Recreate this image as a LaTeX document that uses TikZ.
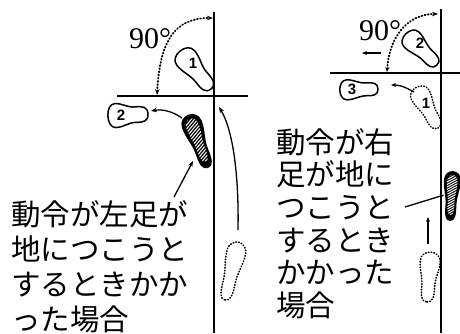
\documentclass[tikz,border=0pt]{standalone}
\usepackage{fontspec}
\setmainfont{Liberation Serif}
\newfontfamily\jpfont{Noto Sans CJK JP}
\newfontfamily\labfont{Liberation Sans}
\usetikzlibrary{arrows.meta}

% outline of a sole: heel at (0,0), toe at (1,0), width 1
\newcommand\solepath{(0,0) .. controls (0,0.3) and (0.12,0.34) .. (0.3,0.32)
  .. controls (0.5,0.3) and (0.6,0.5) .. (0.8,0.5)
  .. controls (1.04,0.5) and (1.04,-0.5) .. (0.8,-0.5)
  .. controls (0.6,-0.5) and (0.5,-0.32) .. (0.3,-0.32)
  .. controls (0.12,-0.34) and (0,-0.3) .. (0,0) -- cycle}

% black sole with white hatching
\newcommand\hatchsole[5]{%
  \begin{scope}[placesole={#1}{#2}{#3}{#4}{#5}]
    \fill[black] \solepath;
    \begin{scope}
      \clip[shift={(0.12,0)},xscale=0.8,yscale=0.62] \solepath;
      \foreach \k in {0,...,22}
        \draw[white,line width=1pt] ({\k*0.05-0.15},-0.6) -- ({\k*0.05+0.1},0.6);
    \end{scope}
  \end{scope}}

\tikzset{
  placesole/.style n args={5}{shift={(#1,#2)},rotate=#3,xscale=#4,yscale=#5},
  footline/.style={draw,line width=1.5pt,line join=round},
  footdots/.style={draw,line width=1.6pt,line cap=round,dash pattern=on 0.6pt off 2.2pt},
  axisline/.style={line width=1.6pt},
  arcdots/.style={line width=1.9pt,line cap=round,dash pattern=on 0.8pt off 2.4pt},
  tip/.style={-{Stealth[length=6pt,width=4.5pt]}},
  arr/.style={line width=1.3pt,tip},
  lab/.style={font=\labfont\bfseries\fontsize{15}{15}\selectfont,inner sep=0},
  jt/.style={font=\jpfont\fontsize{29.5}{30}\selectfont,anchor=base west,inner sep=0},
  deg/.style={font=\fontsize{30}{30}\selectfont,anchor=base west,inner sep=0},
}

\begin{document}
\begin{tikzpicture}[x=1pt,y=-1pt]
\useasboundingbox[fill=white] (0,0) rectangle (460,333);

% ---------- left figure ----------
\coordinate (vl1) at (214,12);  \coordinate (vl2) at (214,333);
\coordinate (hl1) at (117,96);  \coordinate (hl2) at (248,96);
\draw[axisline] (vl1) -- (vl2);
\draw[axisline] (hl1) -- (hl2);

\coordinate (aL1) at (157,95);  \coordinate (aL2) at (213,18);
\draw[arcdots,{Stealth[length=6pt,width=4.5pt]}-{Stealth[length=6pt,width=4.5pt]}]
  (aL1) .. controls (160,40) and (175,18) .. (aL2);
\node[deg] (degL) at (129,48) {90°};

\draw[footline,placesole={211}{89}{129.2}{50}{23}] \solepath;
\node[lab] (nL1) at (193,63) {1};
\draw[footline,placesole={148}{114}{182.8}{41}{24}] \solepath;
\node[lab] (nL2) at (121,115) {2};
\hatchsole{208}{168}{110.3}{58}{21}
\draw[footdots,placesole={225}{300}{76.7}{60.6}{19}] \solepath;

\coordinate (hlA) at (182,118); \coordinate (f2A) at (151,111);
\draw[arr] (hlA) .. controls (172,111) and (162,109) .. (f2A);
\coordinate (tA) at (174,197);  \coordinate (hlB) at (193,161);
\draw[arr] (tA) -- (hlB);
\coordinate (lA) at (238,230);  \coordinate (lB) at (219,107);
\draw[arr] (lA) .. controls (239,175) and (233,130) .. (lB);

\node[jt] (jl1) at (11,225)   {動令が左足が};
\node[jt] (jl2) at (11,260)   {地につこうと};
\node[jt] (jl3) at (11,295)   {するときかか};
\node[jt] (jl4) at (11,330)   {った場合};

% ---------- right figure ----------
\coordinate (vr1) at (441,9);   \coordinate (vr2) at (441,333);
\coordinate (hr1) at (330,73);  \coordinate (hr2) at (460,73);
\draw[axisline] (vr1) -- (vr2);
\draw[axisline] (hr1) -- (hr2);

\coordinate (aR1) at (387,72);  \coordinate (aR2) at (438,14);
\draw[arcdots,{Stealth[length=5pt,width=4pt]}-{Stealth[length=6pt,width=4.5pt]}]
  (aR1) .. controls (389,38) and (407,14) .. (aR2);
\node[deg] (degR) at (359,40) {90°};
\coordinate (sa1) at (381,53);  \coordinate (sa2) at (362,53);
\draw[line width=1.3pt,-{Stealth[length=5pt,width=4pt]}] (sa1) -- (sa2);

\draw[footline,placesole={437}{65}{135}{45}{21}] \solepath;
\node[lab] (nR2) at (420,43) {2};
\draw[footline,placesole={378}{89}{181.5}{39}{20}] \solepath;
\node[lab] (nR3) at (352,89) {3};
\draw[footdots,placesole={438}{128}{118.2}{47}{20}] \solepath;
\node[lab] (nR1) at (426,103) {1};
\hatchsole{450}{221}{86.6}{51}{17}
\draw[footdots,placesole={427}{302}{85.5}{51}{20}] \solepath;

\coordinate (d1A) at (414,92);  \coordinate (f3A) at (391,85);
\draw[line width=1.3pt,-{Stealth[length=5pt,width=4pt]}]
  (d1A) .. controls (405,87) and (400,85) .. (f3A);
\coordinate (trA) at (405,207); \coordinate (hrA) at (444,195);
\draw[line width=1.3pt,-{Stealth[length=4pt,width=4pt]}] (trA) -- (hrA);
\coordinate (ua1) at (428,244); \coordinate (ua2) at (428,217);
\draw[line width=1.2pt,-{Stealth[length=5pt,width=4pt]}] (ua1) -- (ua2);

\node[jt] (jr1) at (276,153)   {動令が右};
\node[jt] (jr2) at (276,185.7) {足が地に};
\node[jt] (jr3) at (276,218.4) {つこうと};
\node[jt] (jr4) at (276,251.1) {するとき};
\node[jt] (jr5) at (276,283.8) {かかった};
\node[jt] (jr6) at (276,316.5) {場合};
\end{tikzpicture}
\end{document}
